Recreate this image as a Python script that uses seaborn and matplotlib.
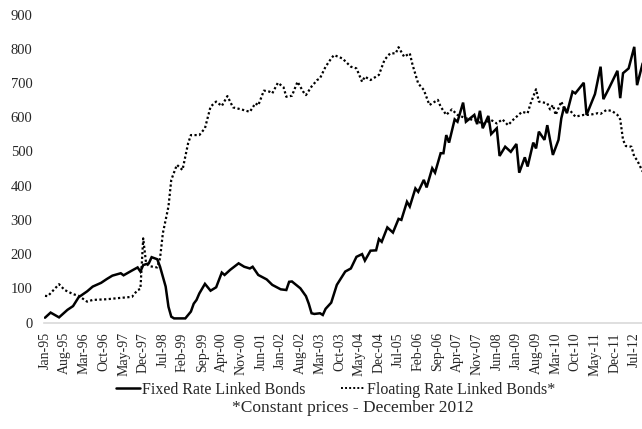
import matplotlib
matplotlib.use("Agg")
import matplotlib.pyplot as plt
from matplotlib.lines import Line2D
import seaborn as sns
import pandas as pd

# ---------------- data (month index from Jan-95 = 0) ----------------
tick_labels = ["Jan-95", "Aug-95", "Mar-96", "Oct-96", "May-97", "Dec-97", "Jul-98",
               "Feb-99", "Sep-99", "Apr-00", "Nov-00", "Jun-01", "Jan-02", "Aug-02",
               "Mar-03", "Oct-03", "May-04", "Dec-04", "Jul-05", "Feb-06", "Sep-06",
               "Apr-07", "Nov-07", "Jun-08", "Jan-09", "Aug-09", "Mar-10", "Oct-10",
               "May-11", "Dec-11", "Jul-12"]

fixed_month = [0, 2, 5, 8, 10, 12, 15, 17, 20, 22, 24, 27, 28, 31, 33, 34, 35, 37, 38, 40,
               41, 43, 44, 45, 46, 50, 52, 53, 54, 55, 57, 59, 61, 63, 64, 66, 69, 71, 73, 74,
               76, 79, 81, 84, 86, 87, 88, 91, 93, 94, 95, 96, 98, 99, 100, 102, 104, 107, 109,
               111, 113, 114, 116, 118, 119, 120, 122, 124, 126, 127, 129, 130, 132, 133, 135,
               136, 138, 139, 141, 142, 143, 144, 146, 147, 149, 150, 153, 154, 155, 156, 158,
               159, 161, 162, 164, 166, 168, 169, 171, 172, 174, 175, 176, 178, 179, 181, 183,
               184, 185, 186, 188, 189, 192, 193, 196, 198, 199, 201, 204, 205, 206, 208, 210,
               211, 213]
fixed_value = [14, 29, 15, 37, 48, 74, 91, 105, 116, 127, 137, 144, 138, 152, 161, 149, 168, 173, 191, 185,
               163, 105, 46, 17, 12, 12, 32, 55, 66, 85, 113, 93, 103, 146, 139, 154, 173, 163, 158, 163,
               139, 126, 110, 97, 95, 119, 120, 100, 77, 55, 27, 25, 27, 22, 40, 58, 110, 149, 158,
               192, 200, 181, 210, 211, 244, 236, 278, 263, 303, 300, 353, 339, 392, 382, 417,
               395, 451, 438, 495, 495, 548, 526, 594, 587, 643, 587, 607, 580, 619, 568, 604,
               551, 568, 487, 514, 499, 522, 438, 483, 456, 526, 509, 558, 534, 577, 490, 534,
               597, 631, 612, 675, 670, 701, 607, 668, 748, 653, 685, 736, 656, 729, 743, 806,
               694, 758]

float_month = [0, 1, 5, 7, 10, 12, 15, 17, 22, 27, 31, 33, 34, 35, 36, 37, 40, 41, 42, 44,
               45, 47, 49, 51, 52, 55, 57, 59, 61, 63, 65, 67, 70, 73, 75, 76, 78, 80, 81, 83,
               85, 86, 88, 90, 92, 93, 95, 97, 98, 100, 102, 103, 106, 109, 111, 113, 114, 116,
               119, 121, 123, 125, 126, 128, 130, 131, 133, 135, 137, 140, 141, 143, 145, 147,
               150, 154, 156, 159, 161, 163, 165, 167, 170, 172, 173, 175, 176, 179, 180, 181,
               182, 184, 185, 187, 189, 192, 194, 197, 198, 200, 202, 204, 205, 206, 207, 209,
               210, 211, 213]
float_value = [78, 77, 112, 95, 83, 78, 61, 66, 68, 72, 75, 95, 98, 246, 175, 165, 161, 188, 261, 339,
               417, 461, 446, 524, 548, 548, 568, 631, 646, 633, 662, 629, 623, 616, 641, 635, 678, 675, 670, 701,
               688, 660, 663, 704, 675, 665, 690, 709, 714, 748, 772, 782, 772, 748, 743, 704, 719, 709,
               724, 768, 787, 787, 805, 777, 787, 753, 699, 680, 636, 651, 631, 607, 623, 607,
               597, 590, 580, 592, 582, 594, 577, 594, 616, 612, 639, 682, 646, 641, 623, 636,
               607, 646, 626, 621, 602, 607, 607, 612, 610, 621, 619, 607, 594, 534, 516, 514,
               485, 475, 441]

fixed_name = "Fixed Rate Linked Bonds"
float_name = "Floating Rate Linked Bonds*"
footnote = "*Constant prices - December 2012"

df_fixed = pd.DataFrame({"month": fixed_month, "value": fixed_value})
df_float = pd.DataFrame({"month": float_month, "value": float_value})

# ---------------- style ----------------
sns.set_style("white")
plt.rcParams['font.family'] = ['Liberation Serif', 'DejaVu Serif']

W, H = 642, 429
fig = plt.figure(figsize=(W / 100, H / 100), dpi=100)
left_px, bottom_px, top_px = 43.6, 322.5, 14.7
ax = fig.add_axes([left_px / W, (H - bottom_px) / H, 1 - left_px / W, (bottom_px - top_px) / H])

sns.lineplot(data=df_fixed, x="month", y="value", ax=ax, color="black", lw=1.8,
             solid_joinstyle="miter")
sns.lineplot(data=df_float, x="month", y="value", ax=ax, color="black", lw=1.6,
             linestyle=(0, (1, 1.1)))

ax.set_xlim(-0.5, 212.76)
ax.set_ylim(0, 900)
ax.set_yticks(range(0, 901, 100))
ax.set_xticks(range(0, 7 * len(tick_labels), 7))
ax.set_xticklabels(tick_labels, rotation=90, fontsize=10)
ax.tick_params(axis="y", length=0, pad=8, labelsize=10.5)
ax.tick_params(axis="x", length=4, width=1, color="#d0d0d0", pad=3, direction="out")
ax.set_xlabel("")
ax.set_ylabel("")
for s in ["left", "top", "right"]:
    ax.spines[s].set_visible(False)
ax.spines["bottom"].set_color("#d9d9d9")
ax.spines["bottom"].set_linewidth(1.2)

handles = [Line2D([], [], color="black", lw=1.8),
           Line2D([], [], color="black", lw=1.4, linestyle=(0, (1, 1.1)))]
fig.legend(handles, [fixed_name, float_name], loc="center",
           bbox_to_anchor=(0.523, 1 - 390 / H), ncol=2, frameon=False,
           fontsize=11.5, handlelength=1.5, handletextpad=0.15, columnspacing=2.2)
fig.text(0.549, 1 - 408.5 / H, footnote, ha="center", va="center", fontsize=12.5)

fig.savefig("out.png", dpi=100)
